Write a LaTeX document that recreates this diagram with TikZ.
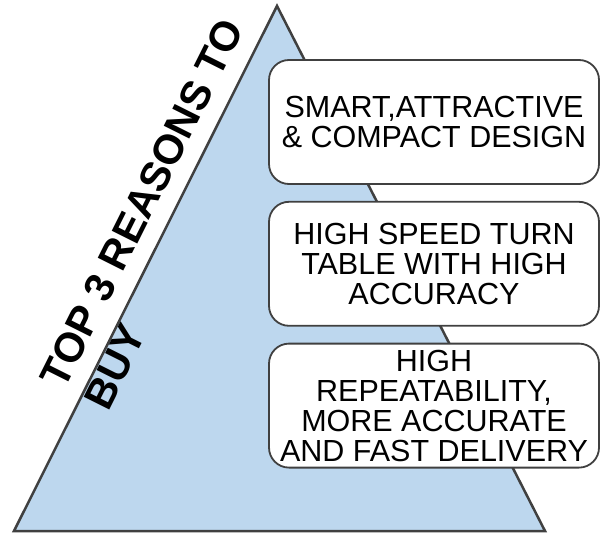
\documentclass[tikz,border=0pt]{standalone}
\usepackage{fontspec}
\setmainfont{Liberation Sans}
\usetikzlibrary{positioning}
\definecolor{pyramidblue}{RGB}{189,215,238}
\definecolor{edgegray}{RGB}{64,64,64}

\begin{document}
\begin{tikzpicture}[x=1pt, y=1pt,
    reason/.style={draw=edgegray, fill=white, rounded corners=20pt, minimum width=330pt, minimum height=124pt, align=center, line width=1.8pt, font=\fontsize{30.5}{30}\selectfont, inner sep=0pt},
    title/.style={font=\fontsize{41.5}{49}\selectfont\bfseries, align=left, rotate=63.4, inner sep=0pt}
]
    \useasboundingbox (0,0) rectangle (601,536);
    % pyramid
    \coordinate (left) at (14,5);
    \coordinate (right) at (545,5);
    \coordinate (apex) at (277,530);
    \draw[edgegray, fill=pyramidblue, line width=2.5pt] (left) -- (apex) -- (right) -- cycle;

    \node[title] (heading) at (164,322) {TOP 3 REASONS TO\\BUY};

    % reasons
    \node[reason] (design) at (434,414) {SMART,ATTRACTIVE\\\& COMPACT DESIGN};
    \node[reason, below=16pt of design] (speed) {HIGH SPEED TURN\\TABLE WITH HIGH\\ACCURACY};
    \node[reason, below=16pt of speed] (delivery) {HIGH\\REPEATABILITY,\\MORE ACCURATE\\AND FAST DELIVERY};
\end{tikzpicture}
\end{document}
